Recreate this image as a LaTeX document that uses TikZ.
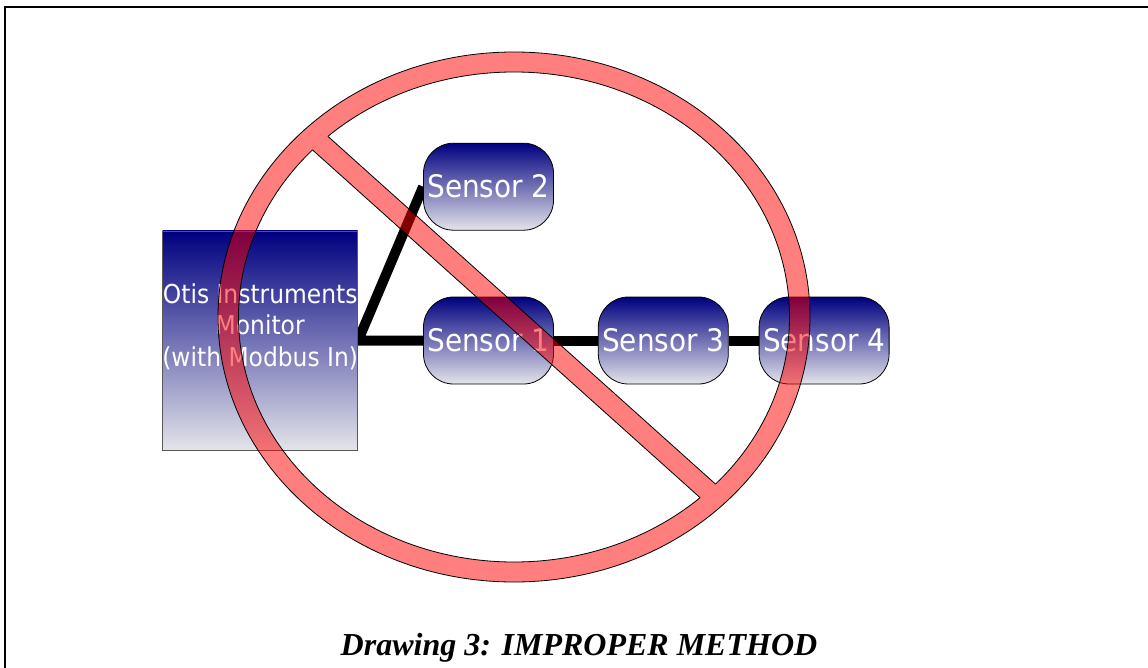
\documentclass[tikz,border=0pt]{standalone}
\usepackage{fontspec}
\setmainfont{Liberation Serif}
\newfontfamily\boxfont{DejaVu Sans Condensed}
\usetikzlibrary{positioning,calc,backgrounds}
\definecolor{navytop}{RGB}{0,0,128}
\definecolor{greybot}{RGB}{228,228,234}
\tikzset{
  monitor/.style={rectangle, draw=gray!70!black, line width=0.8pt, top color=navytop, bottom color=greybot, minimum width=195pt, minimum height=219pt, inner sep=0pt},
  montxt/.style={text=white, align=center, inner sep=0pt, font=\boxfont\fontsize{26}{31.5}\selectfont},
  sensor/.style={rectangle, rounded corners=30pt, draw=black, line width=0.8pt, top color=navytop, bottom color=greybot, minimum width=130pt, minimum height=87pt, inner sep=0pt, text=white, font=\boxfont\fontsize{31}{36}\selectfont},
  wire/.style={line width=10pt, black, line join=miter},
  signfill/.style={fill=red, fill opacity=0.5},
  signline/.style={draw=black, line width=0.8pt},
  captext/.style={font=\bfseries\itshape\fontsize{32}{38}\selectfont}
}
\begin{document}
\begin{tikzpicture}[x=1pt, y=-1pt]
    \useasboundingbox (0,0) rectangle (1148,668);
    % Frame
    \draw[line width=1.5pt] (5,668) -- (5,7) -- (1148,7);

    % Sensors on the bus
    \node[sensor] (s1) at (488.5,340.5) {Sensor 1};
    \node[sensor, above=66pt of s1] (s2) {Sensor 2};
    \node[sensor, right=44pt of s1] (s3) {Sensor 3};
    \node[sensor, right=30pt of s3] (s4) {Sensor 4};

    % Monitor
    \node[monitor, left=65pt of s1] (mon) {};
    \node[montxt] (montxt) at ([yshift=14pt]mon.center) {Otis Instruments\\Monitor\\(with Modbus In)};

    % Wiring
    \begin{scope}[on background layer]
        \draw[wire] (s2.west) -- (mon.east) -- (s1.west);
        \draw[wire] (s1) -- (s3);
        \draw[wire] (s3) -- (s4);
    \end{scope}

    % Prohibition sign
    \coordinate (ctr) at (514,317);
    \coordinate (ba) at ($(ctr)+(221.9:300)+(131.9:10.2)$);
    \coordinate (bb) at ($(ctr)+(41.9:300)+(131.9:10.2)$);
    \coordinate (bc) at ($(ctr)+(41.9:300)+(311.9:10.2)$);
    \coordinate (bd) at ($(ctr)+(221.9:300)+(311.9:10.2)$);
    \fill[signfill, even odd rule] (ctr) ellipse [x radius=296, y radius=265] (ctr) ellipse [x radius=275.5, y radius=245];
    \begin{scope}
        \clip (ctr) ellipse [x radius=275.5, y radius=245];
        \fill[signfill] (ba) -- (bb) -- (bc) -- (bd) -- cycle;
        \draw[signline] (ba) -- (bb) (bd) -- (bc);
    \end{scope}
    \draw[signline] (ctr) ellipse [x radius=296, y radius=265];
    \begin{scope}[even odd rule]
        \clip (0,0) rectangle (1148,668) (ba) -- (bb) -- (bc) -- (bd) -- cycle;
        \draw[signline] (ctr) ellipse [x radius=275.5, y radius=245];
    \end{scope}

    % Caption
    \node[captext, anchor=base] (caption) at (579,655) {Drawing 3: IMPROPER METHOD};
\end{tikzpicture}
\end{document}
